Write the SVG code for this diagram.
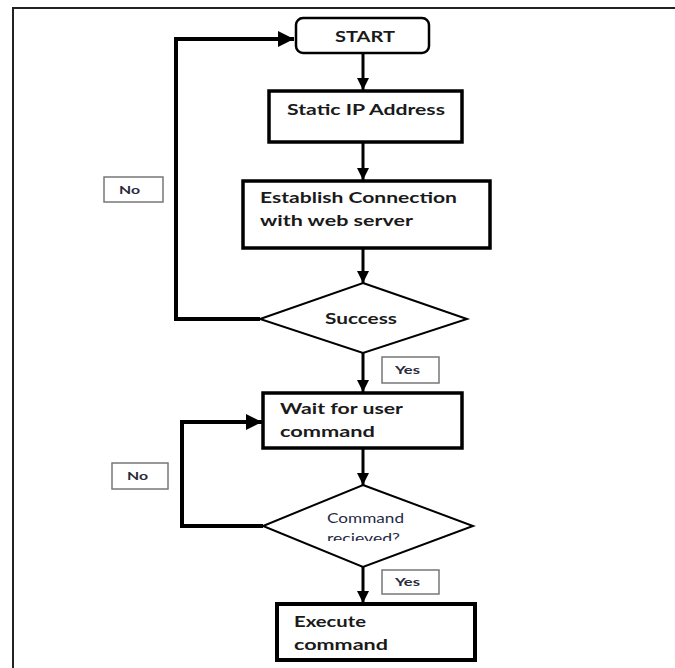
<svg xmlns="http://www.w3.org/2000/svg" width="675" height="668" viewBox="0 0 675 668">
<defs>
<marker id="ah" viewBox="0 0 10 10" refX="10" refY="5" markerWidth="4" markerHeight="4" orient="auto" markerUnits="strokeWidth">
<path d="M0,0 L10,5 L0,10 Z" fill="#000"/>
</marker>
<clipPath id="clipRecv"><rect x="300" y="500" width="130" height="41"/></clipPath>
</defs>
<style>
.bg{fill:#fff}
.frame{fill:none;stroke:#222;stroke-width:2}
.box{fill:#fff;stroke:#000;stroke-width:3.5}
.round{fill:#fff;stroke:#000;stroke-width:2.5}
.dia{fill:#fff;stroke:#000;stroke-width:2}
.lbl{fill:#fff;stroke:#777;stroke-width:1.5}
.t{font-family:Lato,"Open Sans","Liberation Sans",sans-serif;font-weight:bold;font-size:16px;fill:#1a1a1a}
.ts{font-family:Lato,"Open Sans","Liberation Sans",sans-serif;font-size:13px;fill:#1f2a44}
.tl{font-family:Lato,"Open Sans","Liberation Sans",sans-serif;font-weight:bold;font-size:11px;fill:#2a2a3a}
.c{fill:none;stroke:#000;stroke-width:3}
.cl{fill:none;stroke:#000;stroke-width:4}
</style>
<rect class="bg" x="0" y="0" width="675" height="668"/>
<path class="frame" d="M13,668 V8 H675"/>

<g id="connectors">
<path class="c" d="M363,53 V90" marker-end="url(#ah)"/>
<path class="c" d="M363,142 V180" marker-end="url(#ah)"/>
<path class="c" d="M363,248 V283" marker-end="url(#ah)"/>
<path class="cl" d="M260,319 H176 V39 H294" marker-end="url(#ah)"/>
<path class="c" d="M363,353 V392" marker-end="url(#ah)"/>
<path class="c" d="M363,448 V485" marker-end="url(#ah)"/>
<path class="cl" d="M263,526 H182 V422 H262" marker-end="url(#ah)"/>
<path class="c" d="M363,567 V603" marker-end="url(#ah)"/>
</g>

<g id="start">
<rect class="round" x="296" y="18" width="133" height="35" rx="7"/>
<text class="t" x="335" y="42" textLength="60" lengthAdjust="spacingAndGlyphs">START</text>
</g>
<g id="static-ip">
<rect class="box" x="269" y="91" width="193" height="51"/>
<text class="t" x="287" y="115" textLength="158" lengthAdjust="spacingAndGlyphs">Static IP Address</text>
</g>
<g id="establish">
<rect class="box" x="243" y="181" width="247" height="67"/>
<text class="t" x="260" y="203" textLength="197" lengthAdjust="spacingAndGlyphs">Establish Connection</text>
<text class="t" x="260" y="226" textLength="153" lengthAdjust="spacingAndGlyphs">with web server</text>
</g>
<g id="success">
<polygon class="dia" points="363,283 467,319 363,353 260,319"/>
<text class="t" x="325" y="324" textLength="72" lengthAdjust="spacingAndGlyphs">Success</text>
</g>
<g id="no1">
<rect class="lbl" x="104" y="177" width="59" height="25"/>
<text class="tl" x="119" y="194" textLength="21" lengthAdjust="spacingAndGlyphs">No</text>
</g>
<g id="yes1">
<rect class="lbl" x="382" y="357" width="57" height="26"/>
<text class="tl" x="395" y="374" textLength="25" lengthAdjust="spacingAndGlyphs">Yes</text>
</g>
<g id="wait">
<rect class="box" x="263" y="393" width="199" height="55"/>
<text class="t" x="280" y="414" textLength="123" lengthAdjust="spacingAndGlyphs">Wait for user</text>
<text class="t" x="280" y="437" textLength="95" lengthAdjust="spacingAndGlyphs">command</text>
</g>
<g id="command-received">
<polygon class="dia" points="363,485 473,526 363,567 263,526"/>
<text class="ts" x="327" y="523" textLength="77" lengthAdjust="spacingAndGlyphs">Command</text>
<text class="ts" x="327" y="543" textLength="73" lengthAdjust="spacingAndGlyphs" clip-path="url(#clipRecv)">recieved?</text>
</g>
<g id="no2">
<rect class="lbl" x="112" y="463" width="56" height="26"/>
<text class="tl" x="127" y="480" textLength="21" lengthAdjust="spacingAndGlyphs">No</text>
</g>
<g id="yes2">
<rect class="lbl" x="382" y="570" width="57" height="24"/>
<text class="tl" x="395" y="586" textLength="25" lengthAdjust="spacingAndGlyphs">Yes</text>
</g>
<g id="execute">
<rect class="box" x="277" y="604" width="198" height="56" style="stroke-width:4"/>
<text class="t" x="294" y="627" textLength="72" lengthAdjust="spacingAndGlyphs">Execute</text>
<text class="t" x="294" y="650" textLength="94" lengthAdjust="spacingAndGlyphs">command</text>
</g>
</svg>
